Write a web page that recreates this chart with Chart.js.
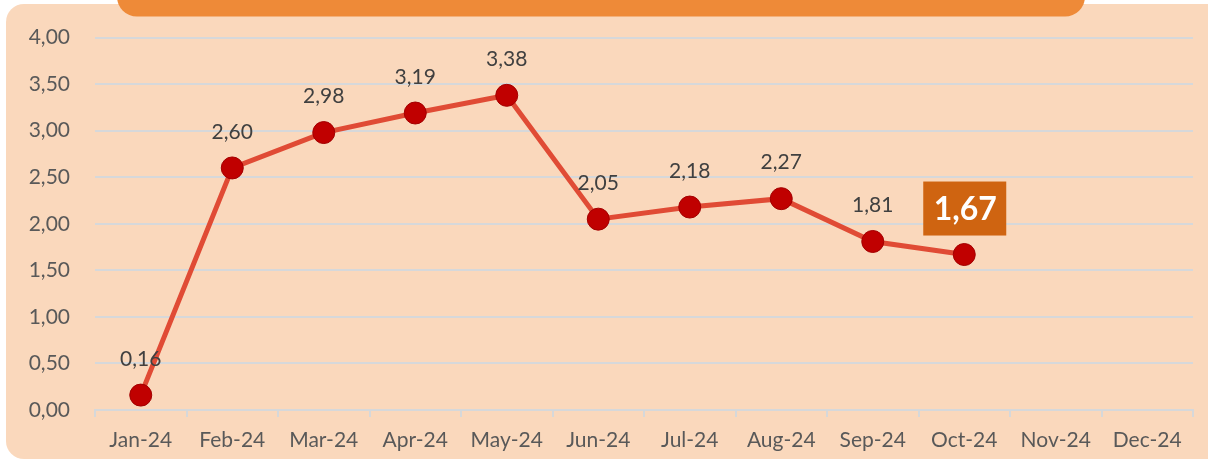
<!DOCTYPE html>
<html>
<head>
<meta charset="utf-8">
<script src="https://cdn.jsdelivr.net/npm/chart.js@4"></script>
<style>
  html, body { margin: 0; padding: 0; background: #fff; }
  #wrap { width: 1208px; height: 463px; }
</style>
</head>
<body>
<div id="wrap"><canvas id="myChart" width="1208" height="463"></canvas></div>
<script>
const months = ["Jan-24", "Feb-24", "Mar-24", "Apr-24", "May-24", "Jun-24",
  "Jul-24", "Aug-24", "Sep-24", "Oct-24", "Nov-24", "Dec-24"];
const values = [0.16, 2.60, 2.98, 3.19, 3.38, 2.05, 2.18, 2.27, 1.81, 1.67, null, null];
const yTicks = [0, 0.5, 1, 1.5, 2, 2.5, 3, 3.5, 4];
const highlightIndex = 9;

const fmt = (v) => v.toFixed(2).replace(".", ",");
const FONT = "Lato, 'Open Sans', sans-serif";

// background panel and the (cut off) orange header bar
const backdrop = {
  id: "backdrop",
  beforeDraw(chart) {
    const c = chart.ctx;
    c.save();
    c.fillStyle = "#ffffff";
    c.fillRect(0, 0, chart.width, chart.height);
    c.fillStyle = "#FAD8BC";
    c.beginPath();
    c.roundRect(6, 4, 1230, 455, 18);
    c.fill();
    c.fillStyle = "#EE8A38";
    c.beginPath();
    c.roundRect(117, -40, 968, 56.5, 20);
    c.fill();
    c.restore();
  },
};

// value labels above each point
const valueLabels = {
  id: "valueLabels",
  afterDatasetsDraw(chart) {
    const c = chart.ctx;
    const meta = chart.getDatasetMeta(0);
    c.save();
    c.textAlign = "center";
    c.textBaseline = "middle";
    meta.data.forEach((pt, i) => {
      const v = values[i];
      if (v === null) return;
      if (i === highlightIndex) {
        c.fillStyle = "#CF6411";
        c.fillRect(pt.x - 41, pt.y - 73, 83, 54);
        c.fillStyle = "#ffffff";
        c.font = "bold 32px " + FONT;
        c.fillText(fmt(v), pt.x + 1, pt.y - 45);
      } else {
        c.fillStyle = "#404040";
        c.font = "21px " + FONT;
        c.fillText(fmt(v), pt.x, pt.y - 36);
      }
    });
    c.restore();
  },
};

const ctx = document.getElementById("myChart");

new Chart(ctx, {
  type: "line",
  data: {
    labels: months,
    datasets: [
      {
        data: values,
        borderColor: "#E04B35",
        borderWidth: 5,
        pointRadius: 11,
        pointHoverRadius: 11,
        pointBackgroundColor: "#C00000",
        pointBorderColor: "#A30000",
        pointBorderWidth: 1,
        tension: 0,
        spanGaps: false,
      },
    ],
  },
  options: {
    responsive: false,
    animation: false,
    events: [],
    layout: { padding: { left: 0, right: 15, top: 36, bottom: 0 } },
    plugins: {
      legend: { display: false },
      tooltip: { enabled: false },
    },
    scales: {
      x: {
        offset: true,
        grid: {
          offset: true,
          drawOnChartArea: false,
          drawTicks: true,
          tickLength: 7,
          color: "#D6D8DA",
          lineWidth: 2,
        },
        border: { color: "#D6D8DA", width: 2 },
        ticks: {
          color: "#595959",
          font: { family: FONT, size: 21 },
          padding: 11,
          maxRotation: 0,
          autoSkip: false,
        },
        afterFit(scale) {
          scale.height = 53;
        },
      },
      y: {
        min: 0,
        max: 4,
        afterBuildTicks(scale) {
          scale.ticks = yTicks.map((v) => ({ value: v }));
        },
        grid: {
          drawTicks: false,
          color: "#D6D8DA",
          lineWidth: 2,
        },
        border: { display: false },
        ticks: {
          color: "#595959",
          font: { family: FONT, size: 21 },
          padding: 25,
          callback: (v) => fmt(v),
        },
        afterFit(scale) {
          scale.width = 95;
        },
      },
    },
  },
  plugins: [backdrop, valueLabels],
});
</script>
</body>
</html>
